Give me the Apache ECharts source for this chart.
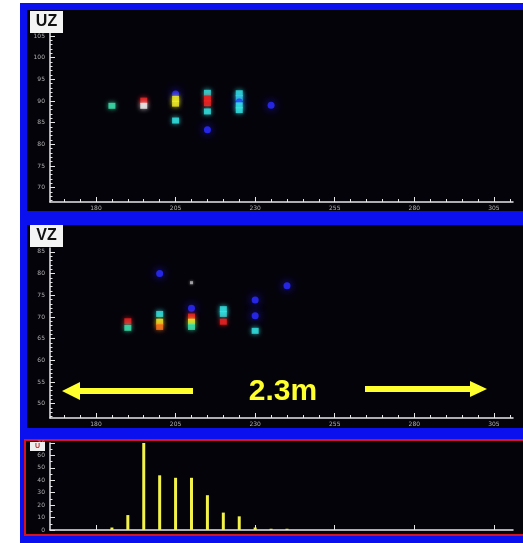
<!DOCTYPE html>
<html>
<head>
<meta charset="utf-8">
<script src="https://cdn.jsdelivr.net/npm/echarts@6/dist/echarts.min.js"></script>
<style>
  html, body { margin: 0; padding: 0; background: #ffffff; }
  #chart { width: 523px; height: 543px; }
</style>
</head>
<body>
<div id="chart"></div>
<script>
// UZ panel: hit positions (x, height) and intensity class
const uzX = [185, 195, 195, 205, 205, 205, 205, 215, 215, 215, 215, 215, 225, 225, 225, 225, 225, 235];
const uzY = [88.9, 90.1, 88.9, 91.6, 90.5, 89.4, 85.5, 91.9, 90.6, 89.5, 87.6, 83.4, 91.8, 90.7, 89.8, 89.0, 87.9, 89.0];
const uzC = ['teal', 'red', 'white', 'blue', 'yellow', 'yellow', 'cyan', 'cyan', 'red', 'red', 'cyan', 'blue', 'cyan', 'cyan', 'blue', 'cyan', 'cyan', 'blue'];

// VZ panel
const vzX = [190, 190, 200, 200, 200, 200, 210, 210, 210, 210, 210, 220, 220, 220, 230, 230, 230, 240];
const vzY = [69.0, 67.5, 80.0, 70.7, 68.9, 67.7, 77.9, 72.0, 70.1, 68.9, 67.7, 71.8, 70.7, 68.9, 73.9, 70.3, 66.8, 77.2];
const vzC = ['red', 'teal', 'blue', 'cyan', 'yellow', 'orange', 'gray', 'blue', 'red', 'yellow', 'teal', 'cyan', 'cyan', 'red', 'blue', 'blue', 'cyan', 'blue'];

// U histogram
const histX = [185, 190, 195, 200, 205, 210, 215, 220, 225, 230, 235, 240];
const histCount = [2, 12, 70, 44, 42, 42, 28, 14, 11, 2, 1, 1];

// axis labels
const xLabels = [180, 205, 230, 255, 280, 305];
const uzLabels = [70, 75, 80, 85, 90, 95, 100, 105];
const vzLabels = [50, 55, 60, 65, 70, 75, 80, 85];
const histLabels = [0, 10, 20, 30, 40, 50, 60, 70];

const palette = {
  blue: '#2a2aff', cyan: '#34e6e6', teal: '#3ee6b0', yellow: '#f4f028',
  red: '#f22424', orange: '#ff7a1e', white: '#f6f6f6', gray: '#b8b8b8'
};

function range(a, b, s) { const r = []; for (let v = a; v <= b + 1e-9; v += s) r.push(+v.toFixed(3)); return r; }

function points(xs, ys, cs) {
  return xs.map((x, i) => {
    const c = cs[i];
    const col = palette[c];
    if (c === 'blue') {
      return { value: [x, ys[i]], symbol: 'circle', symbolSize: 7,
        itemStyle: { color: col, opacity: 0.85, shadowBlur: 9, shadowColor: '#2020ff' } };
    }
    if (c === 'gray') {
      return { value: [x, ys[i]], symbol: 'rect', symbolSize: 3,
        itemStyle: { color: col, shadowBlur: 3, shadowColor: col } };
    }
    return { value: [x, ys[i]], symbol: 'rect', symbolSize: [7, 6],
      itemStyle: { color: col, shadowBlur: 5, shadowColor: col } };
  });
}

const X_MIN = 165.55, X_MAX = 311;
const axisColor = '#e6e6e6';
const labelStyle = { color: '#b0b0b0', fontSize: 6, fontFamily: 'DejaVu Sans' };

function xAxes(grid, showLabels) {
  return [
    { type: 'value', gridIndex: grid, min: X_MIN, max: X_MAX,
      axisLine: { show: true, onZero: false, lineStyle: { color: axisColor, width: 1.5 } },
      splitLine: { show: false },
      axisTick: { show: true, inside: true, length: 5, customValues: xLabels, lineStyle: { color: axisColor } },
      axisLabel: { show: showLabels, customValues: xLabels, margin: 3, ...labelStyle } },
    { type: 'value', gridIndex: grid, min: X_MIN, max: X_MAX, position: 'bottom',
      axisLine: { show: false }, splitLine: { show: false },
      axisTick: { show: showLabels, inside: true, length: 3, customValues: range(170, 310, 5), lineStyle: { color: axisColor } },
      axisLabel: { show: false } }
  ];
}

function yAxes(grid, min, max, labels, minorStep) {
  return [
    { type: 'value', gridIndex: grid, min: min, max: max,
      axisLine: { show: true, onZero: false, lineStyle: { color: axisColor, width: 1.5 } },
      splitLine: { show: false },
      axisTick: { show: true, inside: true, length: 5, customValues: labels, lineStyle: { color: axisColor } },
      axisLabel: { show: true, customValues: labels, margin: 5, ...labelStyle } },
    { type: 'value', gridIndex: grid, min: min, max: max, position: 'left',
      axisLine: { show: false }, splitLine: { show: false },
      axisTick: { show: true, inside: true, length: 2.5,
        customValues: range(Math.ceil(min), Math.floor(max), minorStep), lineStyle: { color: axisColor } },
      axisLabel: { show: false } }
  ];
}

const chart = echarts.init(document.getElementById('chart'), null, { renderer: 'canvas' });

const yellow = '#ffff2e';
const option = {
  animation: false,
  backgroundColor: '#ffffff',
  grid: [
    { left: 50, top: 33, width: 463, height: 169 },
    { left: 50, top: 248, width: 463, height: 170 },
    { left: 50, top: 443, width: 463, height: 87 }
  ],
  xAxis: [...xAxes(0, true), ...xAxes(1, true), ...xAxes(2, false)],
  yAxis: [
    ...yAxes(0, 66.7, 105.7, uzLabels, 1),
    ...yAxes(1, 46.7, 85.9, vzLabels, 1),
    ...yAxes(2, 0, 70, histLabels, 5)
  ],
  series: [
    { name: 'UZ', type: 'scatter', xAxisIndex: 0, yAxisIndex: 0, data: points(uzX, uzY, uzC), z: 5 },
    { name: 'VZ', type: 'scatter', xAxisIndex: 2, yAxisIndex: 2, data: points(vzX, vzY, vzC), z: 5 },
    { name: 'U', type: 'bar', xAxisIndex: 4, yAxisIndex: 4, barWidth: 3,
      data: histX.map((x, i) => [x, histCount[i]]),
      itemStyle: { color: '#f2f24a' }, z: 5 }
  ],
  graphic: [
    // frame and panel backgrounds
    { type: 'rect', z: -10, shape: { x: 20, y: 3, width: 503, height: 540 }, style: { fill: '#0a10ee' } },
    { type: 'rect', z: -9, shape: { x: 27, y: 10, width: 496, height: 201 }, style: { fill: '#05030a' } },
    { type: 'rect', z: -9, shape: { x: 27, y: 225, width: 496, height: 203 }, style: { fill: '#05030a' } },
    { type: 'rect', z: -9, shape: { x: 25, y: 440, width: 500, height: 95 },
      style: { fill: '#05030a', stroke: '#d4141e', lineWidth: 2 } },
    // panel tags
    { type: 'rect', z: 20, shape: { x: 30, y: 11, width: 33, height: 22 }, style: { fill: '#f4f4f4' } },
    { type: 'text', z: 21, x: 46.5, y: 22, style: { text: 'UZ', fill: '#111', font: 'bold 16px "Liberation Sans", Arial', align: 'center', verticalAlign: 'middle' } },
    { type: 'rect', z: 20, shape: { x: 30, y: 225, width: 33, height: 22 }, style: { fill: '#f4f4f4' } },
    { type: 'text', z: 21, x: 46.5, y: 236, style: { text: 'VZ', fill: '#111', font: 'bold 16px "Liberation Sans", Arial', align: 'center', verticalAlign: 'middle' } },
    { type: 'rect', z: 20, shape: { x: 30, y: 442, width: 15, height: 9 }, style: { fill: '#eeeeee' } },
    { type: 'text', z: 21, x: 37.5, y: 446.5, style: { text: 'U', fill: '#c03030', font: 'bold 7px "Liberation Sans", Arial', align: 'center', verticalAlign: 'middle' } },
    // distance annotation
    { type: 'polygon', z: 20, shape: { points: [[62, 391], [80, 382], [80, 388], [193, 388], [193, 394], [80, 394], [80, 400]] }, style: { fill: yellow } },
    { type: 'polygon', z: 20, shape: { points: [[487, 389], [470, 381], [470, 386], [365, 386], [365, 392], [470, 392], [470, 397]] }, style: { fill: yellow } },
    { type: 'text', z: 20, x: 283, y: 392, style: { text: '2.3m', fill: yellow, font: 'bold 30px "Liberation Sans", Arial', align: 'center', verticalAlign: 'middle' } }
  ]
};
chart.setOption(option);
</script>
</body>
</html>
